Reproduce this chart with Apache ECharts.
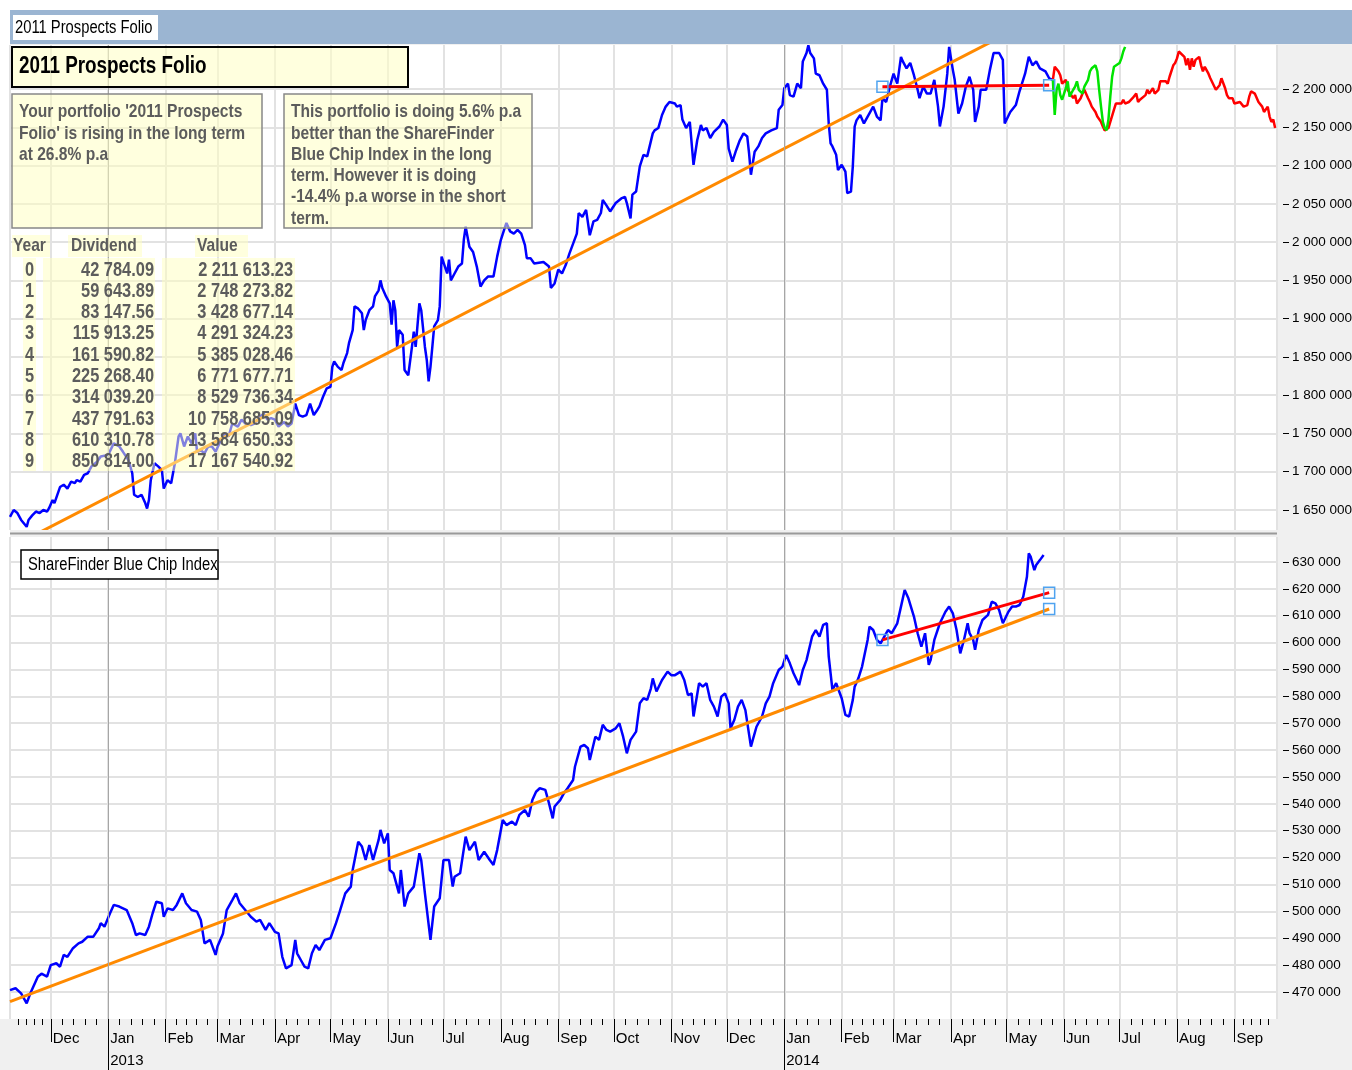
<!DOCTYPE html>
<html>
<head>
<meta charset="utf-8">
<title>2011 Prospects Folio</title>
<script src="https://cdn.jsdelivr.net/npm/echarts@6/dist/echarts.min.js"></script>
<style>
  html, body { margin: 0; padding: 0; background: #fff; }
  #chart { width: 1352px; height: 1070px; }
</style>
</head>
<body>
<div id="chart"></div>
<script>
// x values are days counted from 2013-01-01, y values in thousands

// portfolio value (top panel)
const folioDays = [-53,-51,-49,-47,-44,-43,-41,-39,-37,-35,
  -33,-32,-30,-29,-26,-24,-22,-20,-18,-17,
  -15,-13,-11,-9,-6,-4,-3,0,3,6,
  8,11,13,14,16,18,20,21,22,23,
  25,27,29,30,32,34,35,36,38,39,
  41,43,45,47,48,50,52,54,56,58,
  60,63,65,67,70,72,74,77,79,82,
  84,86,88,90,92,95,97,99,100,101,
  103,105,107,109,111,113,114,116,118,120,
  121,122,124,126,127,129,130,132,133,135,
  137,138,139,141,143,144,146,147,148,150,
  152,153,154,155,156,157,159,160,162,164,
  165,166,168,169,171,172,173,174,175,176,
  178,179,180,181,183,184,185,187,189,191,
  192,193,194,195,197,199,201,203,205,208,
  210,212,214,215,217,219,221,223,225,226,
  228,230,231,235,238,239,241,243,245,247,
  249,251,253,254,256,258,260,262,264,266,
  267,269,271,274,277,279,280,282,283,285,
  287,289,291,294,295,297,299,301,303,306,
  307,309,310,312,314,316,318,320,321,323,
  325,327,330,332,334,335,337,339,341,343,
  345,346,347,348,349,351,353,355,358,361,
  362,364,365,367,368,370,372,374,375,377,
  378,379,381,382,384,386,388,389,390,391,
  393,394,396,398,399,401,402,403,404,406,
  408,410,413,415,417,418,420,422,424,426,
  428,429,431,433,435,437,438,440,442,444,
  446,448,449,451,453,454,456,457,459,461,
  463,465,467,468,470,471,474,476,478,481,
  483,484,485,487,490,492,495,497,499,501,
  503,506,508,510];
const folioK = [1641,1650,1646,1637,1628,1637,1643,1648,1646,1650,
  1648,1652,1663,1659,1680,1683,1678,1687,1685,1689,
  1687,1696,1698,1707,1713,1720,1720,1722,1737,1733,
  1726,1715,1698,1670,1667,1670,1659,1652,1663,1689,
  1711,1707,1702,1678,1689,1685,1698,1711,1746,1750,
  1733,1746,1737,1750,1726,1728,1724,1733,1733,1726,
  1737,1750,1746,1763,1759,1768,1763,1761,1763,1772,
  1776,1768,1770,1768,1759,1765,1759,1763,1776,1789,
  1774,1772,1774,1789,1774,1781,1785,1798,1809,1811,
  1837,1844,1837,1833,1842,1855,1868,1885,1916,1913,
  1907,1885,1898,1911,1916,1929,1937,1950,1940,1929,
  1920,1892,1924,1911,1863,1885,1879,1833,1826,1863,
  1883,1863,1920,1911,1863,1846,1818,1837,1863,1890,
  1898,1916,1981,1983,1959,1977,1950,1959,1968,1972,
  2003,2020,2007,1994,1987,1968,1942,1950,1955,1955,
  1981,2003,2018,2025,2014,2011,2016,2011,1996,1979,
  1979,1972,1974,1974,1968,1940,1946,1964,1959,1970,
  1985,1998,2011,2038,2033,2042,2009,2027,2029,2038,
  2055,2048,2040,2051,2057,2059,2051,2031,2062,2066,
  2099,2114,2112,2142,2146,2149,2166,2177,2183,2181,
  2177,2179,2160,2149,2157,2101,2133,2153,2146,2149,
  2136,2144,2151,2160,2153,2122,2105,2120,2133,2142,
  2138,2116,2088,2090,2118,2125,2136,2142,2146,2149,
  2173,2179,2201,2207,2192,2190,2207,2201,2236,2247,
  2257,2247,2240,2220,2218,2207,2199,2155,2129,2125,
  2114,2094,2101,2092,2064,2066,2099,2151,2159,2166,
  2155,2164,2177,2164,2159,2188,2183,2203,2220,2207,
  2242,2236,2227,2234,2218,2199,2188,2203,2194,2194,
  2212,2177,2151,2177,2220,2255,2225,2212,2168,2181,
  2203,2216,2199,2157,2177,2199,2199,2225,2247,2247,
  2238,2155,2157,2170,2179,2197,2220,2242,2231,2236,
  2227,2223,2214,2212];

// projections after the last value
const greenDays = [510,511,512,513,514,515,517,518,519,521,522,523,524,526,527,528,529,530,531,533,
  534,535,536,537,538,539,540,541,542,543,544,546,547,548,549];
const greenK = [2212,2166,2199,2207,2192,2186,2201,2210,2190,2199,2203,2210,2199,2194,2203,2201,2212,2223,2227,2231,
  2223,2199,2177,2157,2149,2146,2160,2190,2216,2229,2231,2234,2240,2249,2255];
const redDays = [510,511,513,514,515,517,518,519,521,522,523,525,526,527,529,530,531,533,534,536,
  537,538,540,541,543,544,545,547,548,549,551,552,553,555,556,557,558,560,561,562,
  564,565,567,568,569,571,572,573,575,576,577,578,579,581,582,583,584,585,586,587,
  589,590,591,592,594,595,596,598,599,600,601,603,604,605,607,608,609,611,612,613,
  615,616,617,619,620,621,623,624,626,627,628,629,630];
const redK = [2212,2229,2223,2218,2207,2212,2199,2201,2188,2192,2181,2188,2194,2199,2188,2183,2177,2170,2164,2157,
  2151,2146,2149,2157,2173,2181,2183,2181,2186,2181,2183,2181,2188,2194,2183,2186,2188,2192,2199,2194,
  2201,2194,2199,2210,2212,2210,2207,2216,2231,2234,2240,2249,2251,2242,2231,2240,2225,2240,2229,2238,
  2242,2231,2223,2229,2220,2214,2216,2199,2197,2205,2214,2201,2192,2188,2188,2181,2179,2183,2181,2177,
  2179,2190,2197,2194,2192,2183,2177,2170,2177,2164,2157,2160,2149];

// ShareFinder Blue Chip Index (bottom panel)
const indexDays = [-53,-50,-47,-44,-42,-38,-36,-33,-31,-28,
  -26,-24,-22,-19,-16,-14,-11,-8,-5,-4,
  -2,1,3,6,7,10,13,15,17,20,
  22,24,26,29,30,32,35,37,40,42,
  45,48,50,52,55,58,59,62,64,67,
  69,71,74,77,80,82,85,87,90,92,
  94,96,99,101,102,104,106,108,110,112,
  114,117,120,123,125,128,131,132,135,137,
  139,141,143,146,147,149,151,152,154,157,
  158,160,162,165,168,169,171,174,176,179,
  181,184,186,187,190,193,195,198,200,203,
  206,208,210,213,215,218,220,222,225,227,
  229,231,233,236,238,240,241,244,246,248,
  251,252,255,257,259,260,263,265,267,269,
  271,274,276,278,280,282,285,287,289,291,
  293,294,296,299,302,304,306,309,311,313,
  315,316,319,321,323,325,327,329,331,333,
  335,336,338,340,342,344,347,348,350,353,
  355,357,359,362,364,366,368,370,373,375,
  377,380,382,384,386,388,389,391,393,396,
  398,400,402,403,405,407,410,411,413,415,
  417,419,421,423,426,428,430,432,433,435,
  437,439,441,443,444,446,449,452,454,456,
  458,460,462,464,465,467,468,470,472,475,
  477,479,481,483,486,488,490,492,494,496,
  497,498,500,501,503,505];
const indexK = [470.7,471.4,469.5,465.8,469.5,475.7,476.8,475.7,480.0,480.7,
  479.4,483.8,483.1,486.3,488.1,488.7,490.6,490.6,493.7,495.6,
  494.3,499.3,502.4,501.8,502.4,500.5,495.6,491.2,491.8,491.2,
  494.3,499.3,503.6,503.0,498.0,501.1,500.5,502.4,506.7,503.0,
  500.5,499.9,496.8,488.1,489.4,483.8,486.9,491.8,500.5,504.2,
  506.7,503.0,500.5,498.0,496.2,496.8,493.1,495.6,492.4,491.8,
  483.1,478.8,480.0,489.4,484.4,481.9,479.4,478.8,484.4,487.5,
  485.6,489.4,490.0,495.6,499.9,506.7,509.2,515.4,525.9,524.1,
  519.1,524.7,519.1,526.6,530.3,525.3,529.0,515.4,514.2,506.7,
  515.4,501.8,506.7,509.2,521.6,519.1,506.7,489.4,501.8,504.9,
  519.1,519.1,509.2,512.9,514.2,527.8,522.8,525.9,519.1,522.2,
  519.1,517.3,522.8,534.0,532.1,533.4,532.1,535.9,537.7,535.2,
  541.4,544.5,545.8,545.2,540.2,534.6,539.0,541.4,543.9,545.8,
  548.9,553.8,561.3,561.9,560.7,556.3,565.0,563.8,569.4,567.5,
  566.9,568.1,570.0,565.0,558.8,563.8,566.9,577.4,579.3,578.7,
  583.0,586.7,581.8,586.1,589.2,587.9,587.9,589.2,586.1,580.5,
  581.1,572.5,584.9,583.6,584.9,578.7,576.2,572.5,579.9,581.1,
  577.4,568.1,571.2,576.2,578.7,574.9,561.3,563.8,568.7,572.5,
  577.4,579.9,584.9,589.8,591.1,595.4,592.3,588.6,584.2,589.8,
  593.5,602.2,604.7,602.2,606.6,607.2,594.8,582.4,584.9,579.3,
  573.1,572.5,578.7,583.6,586.7,591.1,601.0,605.9,604.7,601.0,
  599.7,602.2,604.7,603.5,607.2,613.4,619.6,616.5,615.9,609.7,
  603.5,598.5,603.5,591.7,593.5,601.0,607.2,611.5,613.4,610.9,
  604.7,596.0,601.0,607.2,603.5,601.0,597.3,604.7,608.4,610.3,
  615.2,614.6,612.1,607.2,611.5,613.4,613.4,614.0,617.1,624.5,
  633.2,632.0,627.0,628.9,630.7,632.6];

// trend lines: long term (orange) and short term (red)
const longDays = [-53, 508];
const folioLongK = [1600.8, 2300.6];
const indexLongK = [466.4, 612.5];
const shortDays = [418, 508];
const folioShortK = [2203, 2205];
const indexShortK = [601.0, 618.6];

// axis ticks and labels
const folioTicks = [1650000,1700000,1750000,1800000,1850000,1900000,1950000,2000000,2050000,2100000,2150000,2200000];
const indexTicks = [470000,480000,490000,500000,510000,520000,530000,540000,550000,560000,570000,580000,590000,600000,610000,620000,630000];
const monthNames = ['Jan','Feb','Mar','Apr','May','Jun','Jul','Aug','Sep','Oct','Nov','Dec'];
const monthStarts = ['2012-12-01','2013-01-01','2013-02-01','2013-03-01','2013-04-01','2013-05-01','2013-06-01',
  '2013-07-01','2013-08-01','2013-09-01','2013-10-01','2013-11-01','2013-12-01','2014-01-01','2014-02-01',
  '2014-03-01','2014-04-01','2014-05-01','2014-06-01','2014-07-01','2014-08-01','2014-09-01'];
const yearStarts = ['2013-01-01', '2014-01-01'];

// dividend table
const tableYears = ['0','1','2','3','4','5','6','7','8','9'];
const tableDividends = ['42 784.09','59 643.89','83 147.56','115 913.25','161 590.82','225 268.40','314 039.20','437 791.63','610 310.78','850 814.00'];
const tableValues = ['2 211 613.23','2 748 273.82','3 428 677.14','4 291 324.23','5 385 028.46','6 771 677.71','8 529 736.34','10 758 685.09','13 584 650.33','17 167 540.92'];

const summaryLines = ["Your portfolio '2011 Prospects", "Folio' is rising in the long term", 'at 26.8% p.a'];
const compareLines = ['This portfolio is doing 5.6% p.a', 'better than the ShareFinder', 'Blue Chip Index in the long',
  'term. However it is doing', '-14.4% p.a worse in the short', 'term.'];

const FONT = '"Liberation Sans", Arial, sans-serif';
const NARROW = 0.82; // horizontal squeeze to imitate a narrow face
const BLUE = '#0000ff', ORANGE = '#ff8a00', RED = '#ff0000', GREEN = '#00e400';
const GRID_COLOR = '#e2e2e2';
const CELL_FILL = 'rgba(255,255,190,0.5)';
const TEXT_GREY = '#5c5c5c';

const dayToTime = d => new Date(2013, 0, 1 + d).getTime();
const dateToTime = s => { const p = s.split('-').map(Number); return new Date(p[0], p[1] - 1, p[2]).getTime(); };
const pairs = (days, vals) => days.map((d, i) => [dayToTime(d), vals[i] * 1000]);
const spaced = v => String(Math.round(v)).replace(/\B(?=(\d{3})+(?!\d))/g, ' ');

const X_MIN = dayToTime(-53);
const X_MAX = dayToTime(631);

function monthLabel(value) {
  const dt = new Date(value);
  if (dt.getDate() !== 1) return '';
  const m = dt.getMonth();
  return m === 0 ? monthNames[m] + '\n' + dt.getFullYear() : monthNames[m];
}

const square = {
  symbol: 'rect', symbolSize: 11, showSymbol: true,
  itemStyle: { color: 'rgba(255,255,255,0)', borderColor: '#4fa3f0', borderWidth: 1.5 }
};

function yearLines() {
  return {
    silent: true, symbol: 'none', animation: false,
    label: { show: false },
    lineStyle: { color: '#a6a6a6', width: 1, type: 'solid' },
    data: yearStarts.map(s => ({ xAxis: dateToTime(s) }))
  };
}

function line(name, xi, data, color, width, extra) {
  return Object.assign({
    name, type: 'line', xAxisIndex: xi, yAxisIndex: xi,
    data, symbol: 'none', showSymbol: false, silent: true, animation: false,
    lineStyle: { color, width }, emphasis: { disabled: true }
  }, extra || {});
}

const xBase = { type: 'time', min: X_MIN, max: X_MAX, splitNumber: 23, maxInterval: 31 * 86400000 };

function tickAxis(values, length) {
  return Object.assign({}, xBase, {
    gridIndex: 1, position: 'bottom',
    axisLine: { show: false }, axisLabel: { show: false }, splitLine: { show: false },
    axisTick: { show: true, length, customValues: values.map(dateToTime), lineStyle: { color: '#000', width: 1 } }
  });
}

function yAxisFor(gi, min, max, ticks) {
  return {
    type: 'value', gridIndex: gi, position: 'right', min, max, offset: 6,
    axisLine: { show: false },
    axisTick: { show: true, length: 6, customValues: ticks, lineStyle: { color: '#000', width: 1 } },
    axisLabel: {
      customValues: ticks, margin: 9, color: '#000', fontFamily: FONT, fontSize: 13.5,
      formatter: v => spaced(v)
    },
    splitLine: { show: true, lineStyle: { color: GRID_COLOR, width: 2 } }
  };
}

function gridFor(top, height) {
  return { left: 10, right: 75, top, height, show: true, backgroundColor: '#fff', borderWidth: 0, outerBoundsMode: 'none', containLabel: false };
}

function txt(x, y, text, opts) {
  return {
    type: 'text', z: opts.z || 61, x, y, scaleX: NARROW,
    style: {
      text, font: (opts.bold ? 'bold ' : '') + opts.size + 'px ' + FONT,
      fill: opts.color || TEXT_GREY, textAlign: opts.align || 'left', textVerticalAlign: 'middle'
    }
  };
}

// overlay boxes and table
const graphics = [
  { type: 'rect', z: -10, shape: { x: 0, y: 0, width: 10, height: 1019 }, style: { fill: '#fff' } },
  { type: 'rect', z: -10, shape: { x: 0, y: 0, width: 1352, height: 10 }, style: { fill: '#fff' } },
  { type: 'rect', z: 50, shape: { x: 10, y: 10, width: 1342, height: 34 }, style: { fill: '#9bb5d2' } },
  { type: 'rect', z: 51, shape: { x: 13, y: 15, width: 145, height: 25 }, style: { fill: '#fff' } },
  txt(15, 28, '2011 Prospects Folio', { size: 18, color: '#000', z: 52 }),
  // panel separator
  { type: 'rect', z: 50, shape: { x: 10, y: 530, width: 1267, height: 7 }, style: { fill: '#f0f0f0' } },
  { type: 'line', z: 51, shape: { x1: 10, y1: 533.5, x2: 1277, y2: 533.5 }, style: { stroke: '#9a9a9a', lineWidth: 2 } },
  // heading
  { type: 'rect', z: 60, shape: { x: 12, y: 47, width: 396, height: 40 }, style: { fill: 'rgba(255,255,200,0.6)', stroke: '#000', lineWidth: 2 } },
  txt(19, 67, '2011 Prospects Folio', { size: 23, bold: true, color: '#000' }),
  // comment boxes
  { type: 'rect', z: 60, shape: { x: 12, y: 94, width: 250, height: 134 }, style: { fill: CELL_FILL, stroke: '#888', lineWidth: 1.5 } },
  { type: 'rect', z: 60, shape: { x: 284, y: 94, width: 248, height: 134 }, style: { fill: CELL_FILL, stroke: '#888', lineWidth: 1.5 } },
  // index label
  { type: 'rect', z: 60, shape: { x: 21, y: 550, width: 197, height: 29 }, style: { fill: '#fff', stroke: '#000', lineWidth: 1.5 } },
  txt(28, 565, 'ShareFinder Blue Chip Index', { size: 18, color: '#000' }),
  // table cells
  { type: 'rect', z: 60, shape: { x: 12, y: 235, width: 38, height: 22 }, style: { fill: CELL_FILL } },
  { type: 'rect', z: 60, shape: { x: 68, y: 235, width: 74, height: 22 }, style: { fill: CELL_FILL } },
  { type: 'rect', z: 60, shape: { x: 195, y: 235, width: 53, height: 22 }, style: { fill: CELL_FILL } },
  { type: 'rect', z: 60, shape: { x: 23, y: 258, width: 13, height: 213 }, style: { fill: CELL_FILL } },
  { type: 'rect', z: 60, shape: { x: 43, y: 258, width: 112, height: 213 }, style: { fill: CELL_FILL } },
  { type: 'rect', z: 60, shape: { x: 162, y: 258, width: 133, height: 213 }, style: { fill: CELL_FILL } }
];

summaryLines.forEach((t, i) => graphics.push(txt(19, 112 + i * 21.3, t, { size: 19, bold: true })));
compareLines.forEach((t, i) => graphics.push(txt(291, 112 + i * 21.3, t, { size: 19, bold: true })));
graphics.push(txt(13, 246, 'Year', { size: 19, bold: true }));
graphics.push(txt(71, 246, 'Dividend', { size: 19, bold: true }));
graphics.push(txt(197, 246, 'Value', { size: 19, bold: true }));
tableYears.forEach((t, i) => {
  const y = 270 + i * 21.3;
  graphics.push(txt(29.5, y, t, { size: 20, bold: true, align: 'center' }));
  graphics.push(txt(154, y, tableDividends[i], { size: 20, bold: true, align: 'right' }));
  graphics.push(txt(293, y, tableValues[i], { size: 20, bold: true, align: 'right' }));
});

const chart = echarts.init(document.getElementById('chart'));

chart.setOption({
  animation: false,
  backgroundColor: '#f0f0f0',
  grid: [gridFor(45, 485), gridFor(537, 482)],
  xAxis: [
    Object.assign({}, xBase, {
      gridIndex: 0,
      axisLine: { show: false }, axisTick: { show: false }, axisLabel: { show: false },
      splitLine: { show: true, lineStyle: { color: GRID_COLOR, width: 2 } }
    }),
    Object.assign({}, xBase, {
      gridIndex: 1, position: 'bottom',
      axisLine: { show: false },
      axisTick: { show: false },
      minorTick: { show: true, splitNumber: 5, length: 6, lineStyle: { color: '#000', width: 1 } },
      axisLabel: {
        show: true, align: 'left', margin: 9, padding: [0, 0, 0, 2], color: '#000',
        fontFamily: FONT, fontSize: 15, lineHeight: 22, formatter: monthLabel
      },
      splitLine: { show: true, lineStyle: { color: GRID_COLOR, width: 2 } }
    }),
    tickAxis(monthStarts, 23),
    tickAxis(yearStarts, 51)
  ],
  yAxis: [
    yAxisFor(0, 1623870, 2257480, folioTicks),
    yAxisFor(1, 459950, 639300, indexTicks)
  ],
  series: [
    line('Portfolio', 0, pairs(folioDays, folioK), BLUE, 2.5, { markLine: yearLines() }),
    line('Long term', 0, pairs(longDays, folioLongK), ORANGE, 3),
    line('Short term', 0, pairs(shortDays, folioShortK), RED, 3, square),
    line('Projection low', 0, pairs(redDays, redK), RED, 2.5),
    line('Projection high', 0, pairs(greenDays, greenK), GREEN, 2.5),

    line('Index', 1, pairs(indexDays, indexK), BLUE, 2.5, { markLine: yearLines() }),
    line('Index long term', 1, pairs(longDays, indexLongK).map((p, i) => i === 0 ? { value: p, symbol: 'none' } : { value: p }), ORANGE, 3, square),
    line('Index short term', 1, pairs(shortDays, indexShortK), RED, 3, square)
  ],
  graphic: graphics
});
</script>
</body>
</html>
